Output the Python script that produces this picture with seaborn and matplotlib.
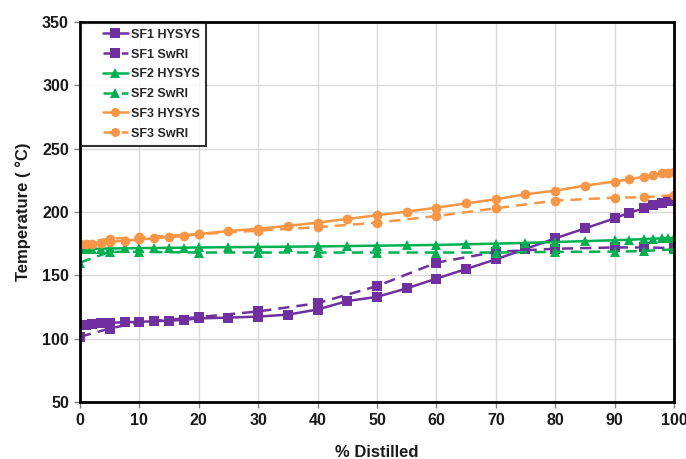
import matplotlib
matplotlib.use("Agg")
import matplotlib.pyplot as plt
from matplotlib.legend_handler import HandlerLine2D
from matplotlib.lines import Line2D
import seaborn as sns
import pandas as pd

hysys_x = [0, 1, 2, 3.5, 5, 7.5, 10, 12.5, 15, 17.5, 20, 25, 30, 35, 40, 45, 50,
           55, 60, 65, 70, 75, 80, 85, 90, 92.5, 95, 96.5, 98, 99, 100]
swri_x = [0, 5, 10, 20, 30, 40, 50, 60, 70, 80, 90, 95, 100]

sf1_hysys = [110.8, 111, 111.3, 112, 112.5, 113, 113.2, 113.8, 114.2, 114.8, 116,
             116.6, 117.4, 119, 123, 129.7, 133, 139.7, 147.4, 155, 162.6, 170.8,
             179.2, 187, 195, 199.5, 203, 205.5, 207.4, 208.7, 209.5]
sf1_swri = [101.5, 108, 113, 117, 121.5, 128, 141.5, 160, 168.5, 171, 172, 172, 171.5]
sf2_hysys = [170.5, 170.8, 171, 171, 171.2, 171.3, 171.5, 171.6, 171.7, 171.8, 172,
             172.2, 172.4, 172.6, 172.8, 173.1, 173.4, 173.7, 174, 174.5, 175, 175.6,
             176.3, 177, 177.7, 178.1, 178.6, 178.9, 179.2, 179.4, 179.6]
sf2_swri = [160, 168.5, 168.5, 168, 168, 168, 168, 168, 168, 168.5, 168.7, 169.2, 170.5]
sf3_hysys = [174.5, 174.7, 175, 175.8, 176.5, 177.4, 178.3, 179.2, 180.2, 181, 182.6,
             185, 186.8, 189, 191.6, 194.5, 197.4, 200.3, 203.4, 206.8, 210, 214,
             216.8, 220.8, 224, 225.8, 228, 229.2, 230.5, 231, 231.3]
sf3_swri = [175, 179, 180, 182.5, 185.3, 188, 191.6, 196.8, 202.9, 209, 211.3, 211.6, 213.4]

series_names = ["SF1 HYSYS", "SF1 SwRI", "SF2 HYSYS", "SF2 SwRI", "SF3 HYSYS", "SF3 SwRI"]
x_ticks = [0, 10, 20, 30, 40, 50, 60, 70, 80, 90, 100]
y_ticks = [50, 100, 150, 200, 250, 300, 350]

sns.set_theme(style="white")
plt.rcParams["font.family"] = ["Liberation Sans", "DejaVu Sans"]

fig = plt.figure(figsize=(6.86, 4.59), dpi=100)
ax = fig.add_axes([0.1166, 0.1242, 0.8659, 0.8279])

purple = "#7030A0"
green = "#00B050"
orange = "#F79646"
dash = (0, (4.5, 2.8))

specs = [
    (hysys_x, sf1_hysys, purple, "s", "-"),
    (swri_x, sf1_swri, purple, "s", dash),
    (hysys_x, sf2_hysys, green, "^", "-"),
    (swri_x, sf2_swri, green, "^", dash),
    (hysys_x, sf3_hysys, orange, "o", "-"),
    (swri_x, sf3_swri, orange, "o", dash),
]

for name, (xs, ys, c, m, ls) in zip(series_names, specs):
    df = pd.DataFrame({"x": xs, "y": ys})
    sns.lineplot(data=df, x="x", y="y", ax=ax, color=c, marker=m, linestyle=ls,
                 linewidth=1.8, markersize=7, markeredgewidth=0, label=name,
                 estimator=None, sort=False)

ax.set_xlim(0, 100)
ax.set_ylim(50, 350)
ax.set_xticks(x_ticks)
ax.set_yticks(y_ticks)
ax.grid(True, color="#d9d9d9", linewidth=1)
ax.set_axisbelow(True)
for s in ax.spines.values():
    s.set_color("black")
    s.set_linewidth(2)
ax.tick_params(axis="both", which="major", length=4, width=1, color="#808080",
               labelsize=11.5, pad=4, direction="out", bottom=True, left=True)
for lab in ax.get_xticklabels() + ax.get_yticklabels():
    lab.set_fontweight("bold")
    lab.set_color("#1a1a1a")

ax.set_xlabel("% Distilled", fontsize=12, fontweight="bold", labelpad=12, color="#1a1a1a")
ax.set_ylabel("Temperature ( °C)", fontsize=12, fontweight="bold", labelpad=8, color="#1a1a1a")

handles, labels = ax.get_legend_handles_labels()
hmap = {h: HandlerLine2D(xpad=1.28) for h in handles}
leg = ax.legend(handles, labels, loc="upper left", fontsize=9, frameon=True, fancybox=False,
                handlelength=3.3, borderpad=0.5, labelspacing=0.62,
                borderaxespad=0.05, handletextpad=0.25, handler_map=hmap)
leg.get_frame().set_edgecolor("black")
leg.get_frame().set_linewidth(1.5)
for t in leg.get_texts():
    t.set_fontweight("bold")
for lh in leg.get_lines():
    lh.set_markersize(6.5)

fig.savefig("out.png", dpi=100)
